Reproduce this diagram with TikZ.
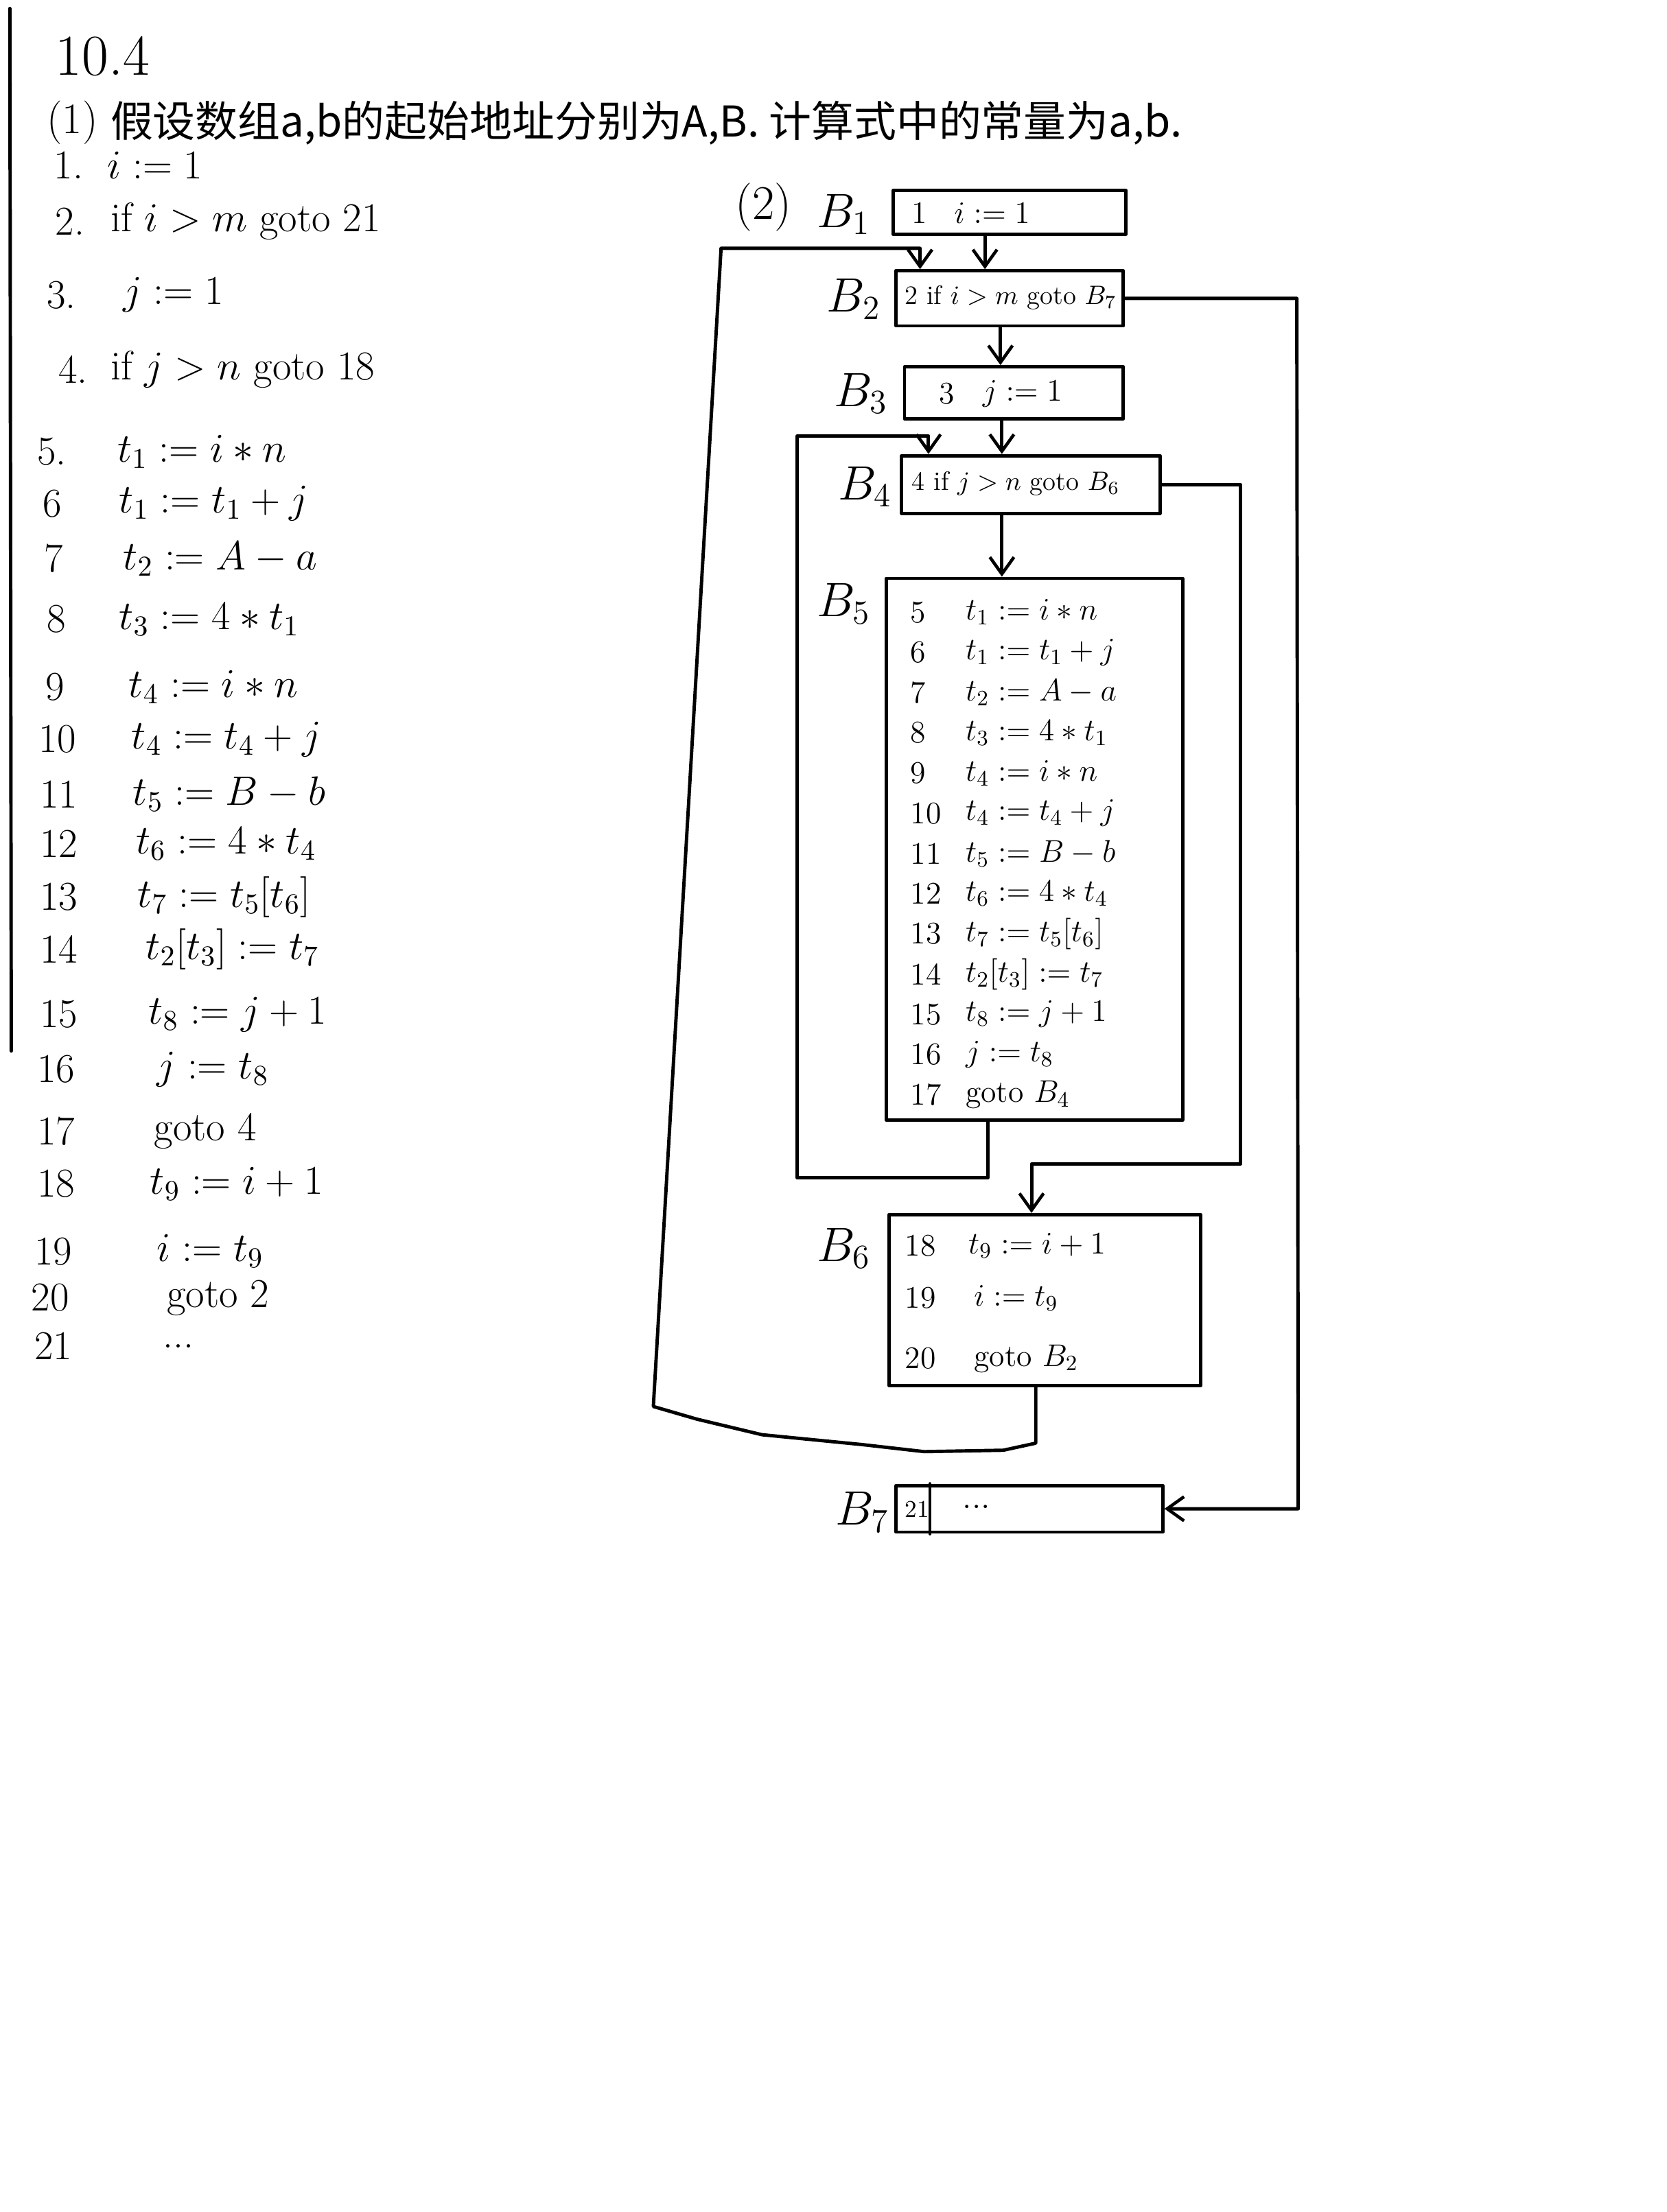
\RequirePackage{fix-cm}
\documentclass[tikz,border=0pt]{standalone}
\usepackage{fontspec}
\newfontfamily\cjk{Noto Sans CJK SC}
\usetikzlibrary{arrows.meta,fit}

\begin{document}
\begin{tikzpicture}[x=0.02056cm,y=-0.02056cm,
  ink/.style={line width=1.4pt, line cap=round, line join=round},
  box/.style={draw, ink, inner sep=0pt},
  arr/.style={ink, -{Straight Barb[length=7pt,width=10pt,line width=1.3pt]}},
  listnum/.style={anchor=west, inner sep=0pt, font=\fontsize{17}{20}\selectfont},
  listtxt/.style={anchor=west, inner sep=0pt, font=\fontsize{17}{20}\selectfont},
  code/.style={anchor=west, inner sep=0pt, font=\fontsize{13}{15}\selectfont},
  codesm/.style={anchor=west, inner sep=0pt, font=\fontsize{11}{13}\selectfont},
  bname/.style={inner sep=0pt, font=\fontsize{20}{22}\selectfont},
]
% page
\fill[white] (0,0) rectangle (1181,1568);
\useasboundingbox (0,0) rectangle (1181,1568);

% margin rule
\draw[ink] (7,6) -- (8,745);

% heading
\node[anchor=west, inner sep=0pt, font=\fontsize{24}{26}\selectfont] (title) at (39,40) {10.4};
\node[anchor=west, inner sep=0pt, font=\fontsize{18}{20}\selectfont] (p1) at (33,87) {(1)};
\node[anchor=west, inner sep=0pt, font=\cjk\fontsize{17.6}{20}\selectfont] (p1txt) at (78,87)
  {假设数组a,b的起始地址分别为A,B. 计算式中的常量为a,b.};

% three-address code listing
\node[listnum] (n1)  at (38,117) {1.};  \node[listtxt] (s1)  at (76,117)  {$i:=1$};
\node[listnum] (n2)  at (39,157) {2.};  \node[listtxt] (s2)  at (78,157)  {if $i>m$ goto 21};
\node[listnum] (n3)  at (33,209) {3.};  \node[listtxt] (s3)  at (87,209)  {$j:=1$};
\node[listnum] (n4)  at (41,262) {4.};  \node[listtxt] (s4)  at (78,262)  {if $j>n$ goto 18};
\node[listnum] (n5)  at (26,320) {5.};  \node[listtxt] (s5)  at (83,320)  {$t_1:=i*n$};
\node[listnum] (n6)  at (30,357) {6};   \node[listtxt] (s6)  at (84,357)  {$t_1:=t_1+j$};
\node[listnum] (n7)  at (31,396) {7};   \node[listtxt] (s7)  at (87,396)  {$t_2:=A-a$};
\node[listnum] (n8)  at (33,439) {8};   \node[listtxt] (s8)  at (84,439)  {$t_3:=4*t_1$};
\node[listnum] (n9)  at (32,487) {9};   \node[listtxt] (s9)  at (91,487)  {$t_4:=i*n$};
\node[listnum] (n10) at (27,524) {10};  \node[listtxt] (s10) at (93,524)  {$t_4:=t_4+j$};
\node[listnum] (n11) at (28,563) {11};  \node[listtxt] (s11) at (94,563)  {$t_5:=B-b$};
\node[listnum] (n12) at (28,598) {12};  \node[listtxt] (s12) at (96,598)  {$t_6:=4*t_4$};
\node[listnum] (n13) at (28,636) {13};  \node[listtxt] (s13) at (97,636)  {$t_7:=t_5[t_6]$};
\node[listnum] (n14) at (28,673) {14};  \node[listtxt] (s14) at (103,673) {$t_2[t_3]:=t_7$};
\node[listnum] (n15) at (28,719) {15};  \node[listtxt] (s15) at (105,719) {$t_8:=j+1$};
\node[listnum] (n16) at (26,758) {16};  \node[listtxt] (s16) at (111,758) {$j:=t_8$};
\node[listnum] (n17) at (26,802) {17};  \node[listtxt] (s17) at (109,802) {goto 4};
\node[listnum] (n18) at (26,839) {18};  \node[listtxt] (s18) at (106,839) {$t_9:=i+1$};
\node[listnum] (n19) at (24,887) {19};  \node[listtxt] (s19) at (111,887) {$i:=t_9$};
\node[listnum] (n20) at (22,920) {20};  \node[listtxt] (s20) at (118,920) {goto 2};
\node[listnum] (n21) at (24,954) {21};  \node[listtxt] (s21) at (115,954) {...};

% flow graph: basic blocks
\node[bname] (part2) at (541,147) {(2)};
\node[box, fit={(633,135) (798,166)}]  (B1) {};
\node[box, fit={(635,192) (796,231)}]  (B2) {};
\node[box, fit={(641,260) (796,297)}]  (B3) {};
\node[box, fit={(639,323) (822,364)}]  (B4) {};
\node[box, fit={(628,410) (838,794)}]  (B5) {};
\node[box, fit={(630,861) (851,982)}]  (B6) {};
\node[box, fit={(635,1053) (824,1086)}] (B7) {};

\node[bname] (lB1) at (598,152)  {$B_1$};
\node[bname] (lB2) at (605,212)  {$B_2$};
\node[bname] (lB3) at (610,279)  {$B_3$};
\node[bname] (lB4) at (613,345)  {$B_4$};
\node[bname] (lB5) at (598,428)  {$B_5$};
\node[bname] (lB6) at (598,885)  {$B_6$};
\node[bname] (lB7) at (611,1072) {$B_7$};

% block contents
\node[code] (b1n) at (646,151) {1};
\node[code] (b1s) at (676,151) {$i:=1$};
\node[codesm] (b2s) at (641,211) {2 if $i>m$ goto $B_7$};
\node[code] (b3n) at (665,279) {3};
\node[code] (b3s) at (696,279) {$j:=1$};
\node[codesm] (b4s) at (646,343) {4 if $j>n$ goto $B_6$};

\foreach \k/\num/\stmt in {0/5/{$t_1:=i*n$},1/6/{$t_1:=t_1+j$},2/7/{$t_2:=A-a$},
  3/8/{$t_3:=4*t_1$},4/9/{$t_4:=i*n$},5/10/{$t_4:=t_4+j$},6/11/{$t_5:=B-b$},
  7/12/{$t_6:=4*t_4$},8/13/{$t_7:=t_5[t_6]$},9/14/{$t_2[t_3]:=t_7$},
  10/15/{$t_8:=j+1$},11/16/{$j:=t_8$},12/17/{goto $B_4$}}{
  \node[code] (b5n\num) at (645,434+28.5*\k) {\num};
  \node[code] (b5s\num) at (684,434+28.5*\k) {\stmt};
}

\node[code] (b6n18) at (641,883) {18}; \node[code] (b6s18) at (686,883) {$t_9:=i+1$};
\node[code] (b6n19) at (641,920) {19}; \node[code] (b6s19) at (690,920) {$i:=t_9$};
\node[code] (b6n20) at (641,963) {20}; \node[code] (b6s20) at (690,963) {goto $B_2$};

\coordinate (div) at (659,0);
\draw[ink] (B7.north -| div) -- (B7.south -| div);
\node[anchor=west, inner sep=0pt, font=\fontsize{10}{12}\selectfont] (b7n) at (641,1070) {21};
\node[anchor=west, inner sep=0pt, font=\fontsize{14}{16}\selectfont] (b7s) at (682,1068) {...};

% straight-line edges
\coordinate (x1) at (698,0);
\coordinate (x2) at (709,0);
\coordinate (x3) at (710,0);
\draw[arr] (B1.south -| x1) -- (B2.north -| x1);
\draw[arr] (B2.south -| x2) -- (B3.north -| x2);
\draw[arr] (B3.south -| x3) -- (B4.north -| x3);
\draw[arr] (B4.south -| x3) -- (B5.north -| x3);

% B5 -> B4 back edge
\coordinate (l5a) at (700,835);
\coordinate (l5b) at (565,835);
\coordinate (l5c) at (565,309);
\coordinate (l5d) at (658,309);
\draw[arr] (B5.south -| l5a) -- (l5a) -- (l5b) -- (l5c) -- (l5d) -- (B4.north -| l5d);

% B4 -> B6
\coordinate (r4x) at (879,0);
\coordinate (r4b) at (879,825);
\coordinate (r4c) at (731,825);
\draw[arr] (B4.east) -- (B4.east -| r4x) -- (r4b) -- (r4c) -- (B6.north -| r4c);

% B6 -> B2 back edge
\coordinate (g0) at (734,1023);
\coordinate (g1) at (463,997);
\coordinate (g2) at (511,176);
\coordinate (g3) at (652,176);
\draw[arr] (B6.south -| g0) -- (g0) -- (711,1028) -- (655,1029) -- (611,1024)
  -- (540,1017) -- (494,1006) -- (g1) -- (g2) -- (g3) -- (B2.north -| g3);

% B2 -> B7
\coordinate (r2x) at (919,0);
\coordinate (r2b) at (920,1069.5);
\draw[arr] (B2.east) -- (B2.east -| r2x) -- (r2b) -- (B7.east);

\end{tikzpicture}
\end{document}
